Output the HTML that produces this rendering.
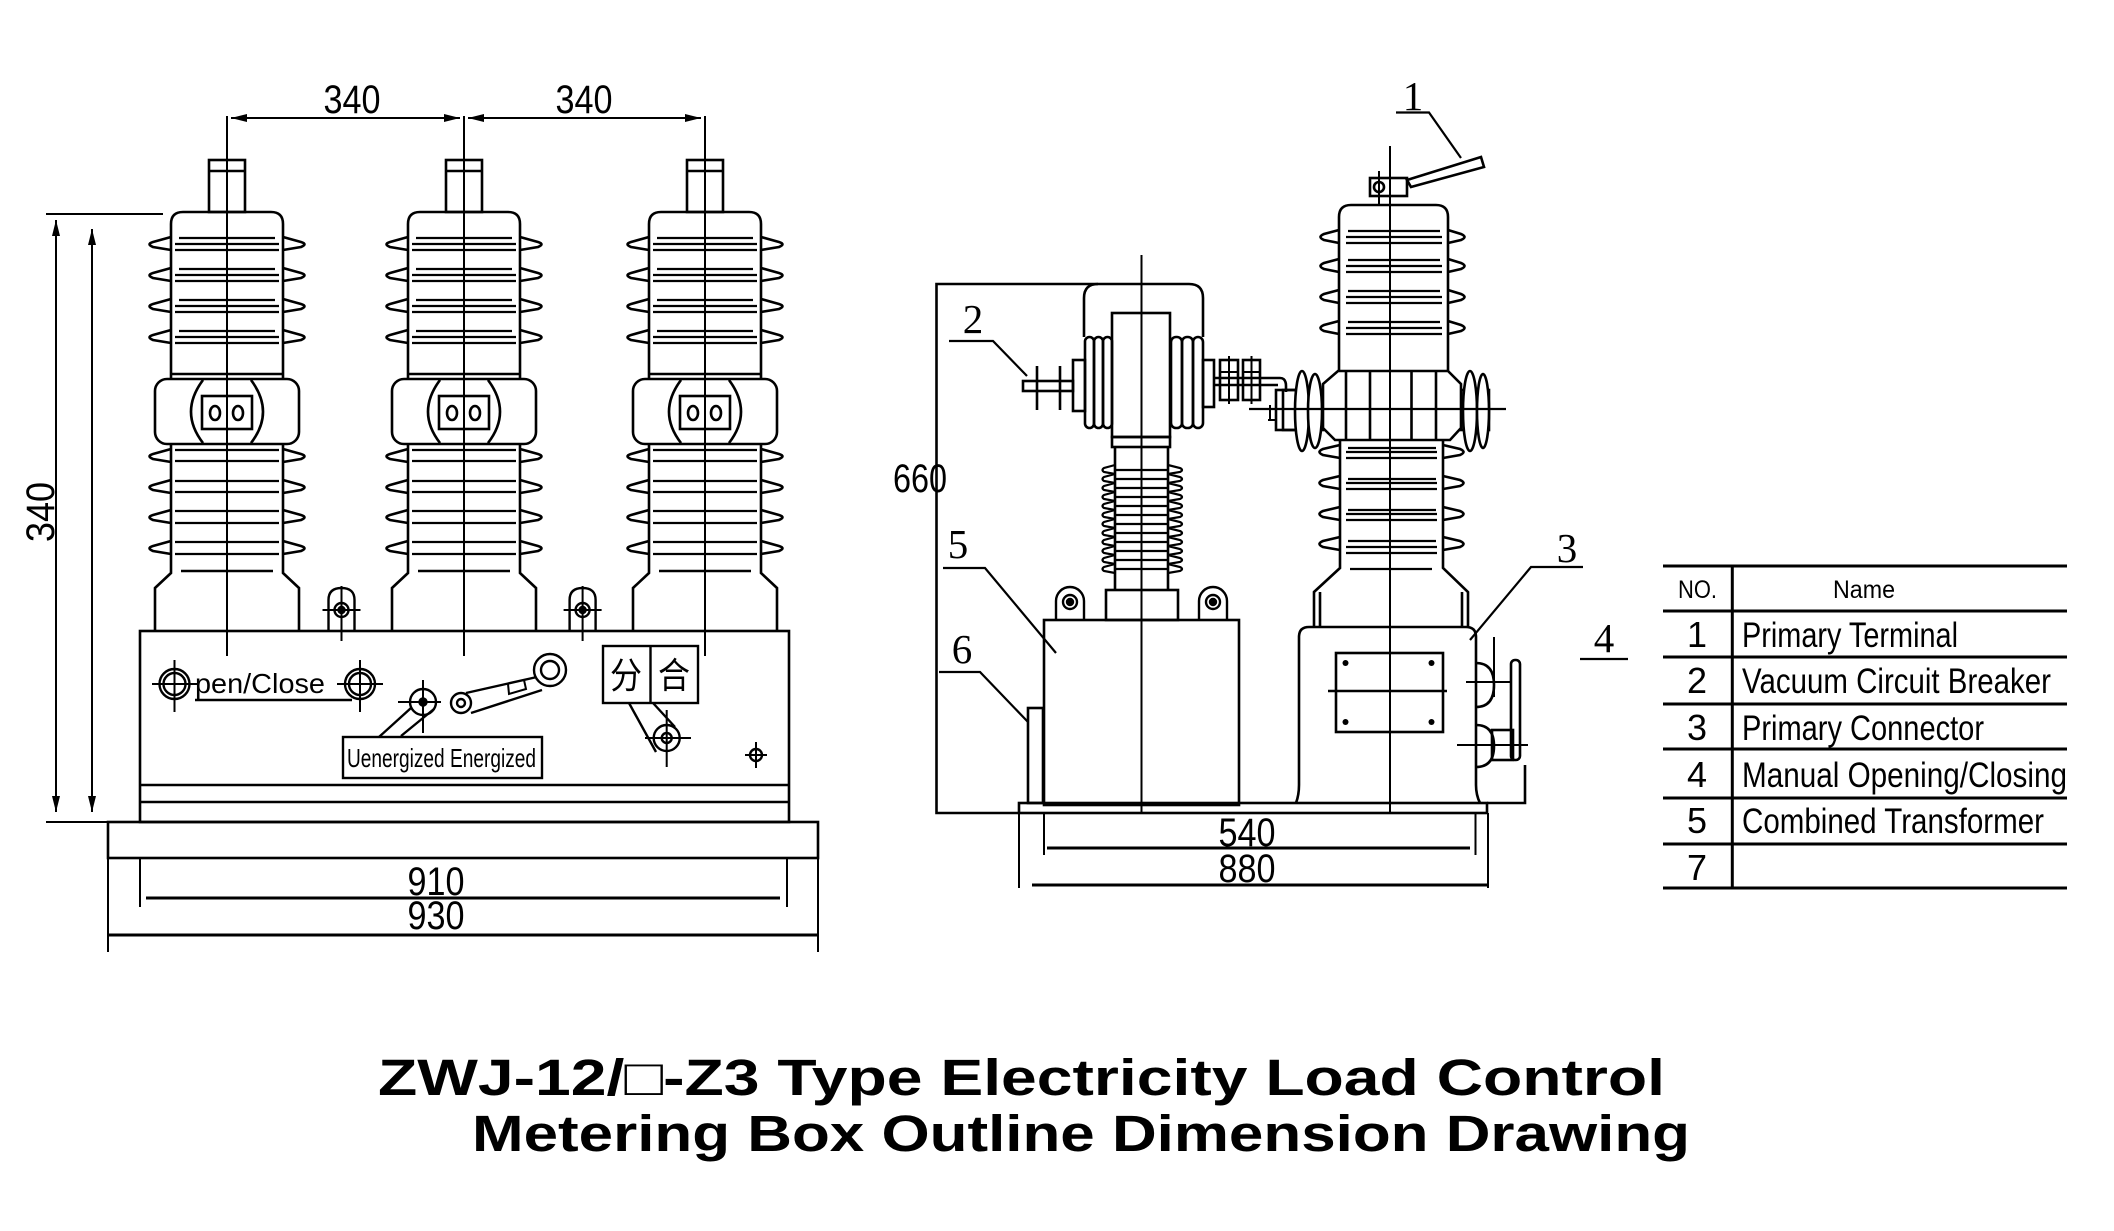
<!DOCTYPE html>
<html><head><meta charset="utf-8"><style>
html,body{margin:0;padding:0;background:#fff;overflow:hidden}
svg{display:block}
.s{font-family:"Liberation Sans",sans-serif}
.r{font-family:"Liberation Serif",serif}
</style></head><body>
<svg width="2114" height="1231" viewBox="0 0 2114 1231" xmlns="http://www.w3.org/2000/svg">
<defs>
<marker id="ar" viewBox="0 0 16 8" refX="16" refY="4" markerWidth="16" markerHeight="8" markerUnits="userSpaceOnUse" orient="auto-start-reverse"><path d="M0,0 L16,4 L0,8 Z" fill="#000"/></marker>
<g id="pole" fill="none" stroke="#000" stroke-width="2.6">
 <rect x="-18" y="160" width="36" height="52"/>
 <line x1="-18" y1="171" x2="18" y2="171"/>
 <path d="M-56,378 V224 Q-56,212 -44,212 H44 Q56,212 56,224 V378"/>
 <line x1="-56" y1="374" x2="56" y2="374"/>
 <path d="M-56,237 L-74,242 Q-81,244 -74,247 L-56,250 M56,237 L74,242 Q81,244 74,247 L56,250
 M-56,268 L-74,273 Q-81,275 -74,278 L-56,281 M56,268 L74,273 Q81,275 74,278 L56,281
 M-56,299 L-74,304 Q-81,306 -74,309 L-56,312 M56,299 L74,304 Q81,306 74,309 L56,312
 M-56,330 L-74,335 Q-81,337 -74,340 L-56,343 M56,330 L74,335 Q81,337 74,340 L56,343"/>
 <path stroke-width="2.2" d="M-48,238 H48 M-52,244 H52 M-52,250 H52 M-48,269 H48 M-52,275 H52 M-52,281 H52 M-48,300 H48 M-52,306 H52 M-52,312 H52 M-48,331 H48 M-52,337 H52 M-52,343 H52"/>
 <rect x="-72" y="379" width="144" height="65" rx="12"/>
 <path d="M-24,380 Q-48,412 -24,443 M24,380 Q48,412 24,443"/>
 <rect x="-25" y="396" width="50" height="33"/>
 <ellipse cx="-12" cy="413" rx="5" ry="7"/><ellipse cx="11" cy="413" rx="5" ry="7"/>
 <path d="M-56,444 V573 L-72,588 V631 M56,444 V573 L72,588 V631"/>
 <line x1="-46" y1="571" x2="46" y2="571"/>
 <path d="M-56,449 L-74,454 Q-81,456 -74,459 L-56,462 M56,449 L74,454 Q81,456 74,459 L56,462
 M-56,480 L-74,485 Q-81,487 -74,490 L-56,493 M56,480 L74,485 Q81,487 74,490 L56,493
 M-56,510 L-74,515 Q-81,517 -74,520 L-56,523 M56,510 L74,515 Q81,517 74,520 L56,523
 M-56,541 L-74,546 Q-81,548 -74,551 L-56,554 M56,541 L74,546 Q81,548 74,551 L56,554"/>
 <path stroke-width="2.2" d="M-52,450 H52 M-52,461 H52 M-52,481 H52 M-52,492 H52 M-52,511 H52 M-52,523 H52 M-52,542 H52 M-52,554 H52"/>
 <line x1="0" y1="116" x2="0" y2="656" stroke-width="2"/>
</g>
<g id="xh" fill="none" stroke="#000" stroke-width="2.4">
 <path d="M-13,631 V600 Q-13,588 0,588 Q13,588 13,600 V631"/>
 <circle cx="0" cy="610" r="7"/><circle cx="0" cy="610" r="3" fill="#000"/>
 <path d="M-19,610 H19 M0,586 V641" stroke-width="2"/>
</g>
<g id="eye" fill="none" stroke="#000" stroke-width="2.4">
 <path d="M-14,620 V601 A14,14 0 0 1 14,601 V620"/>
 <circle cx="0" cy="602" r="7"/><circle cx="0" cy="602" r="3" fill="#000"/>
</g>
</defs>

<rect width="2114" height="1231" fill="#fff"/>

<!-- ============ LEFT FRONT VIEW ============ -->
<use href="#pole" x="227"/>
<use href="#pole" x="464"/>
<use href="#pole" x="705"/>

<g fill="none" stroke="#000" stroke-width="2.6">
 <!-- box -->
 <rect x="140" y="631" width="649" height="191"/>
 <path d="M140,785 H789 M140,802 H789"/>
 <!-- base plate -->
 <rect x="108" y="822" width="710" height="36"/>
</g>
<use href="#xh" x="341.5"/>
<use href="#xh" x="582.6"/>

<!-- top dims -->
<g stroke="#000" stroke-width="2" fill="none">
 <line x1="231" y1="118" x2="460" y2="118" marker-start="url(#ar)" marker-end="url(#ar)"/>
 <line x1="468" y1="118" x2="701" y2="118" marker-start="url(#ar)" marker-end="url(#ar)"/>
 <!-- left vertical dims -->
 <line x1="46" y1="214" x2="163" y2="214"/>
 <line x1="46" y1="822" x2="108" y2="822"/>
 <line x1="56" y1="220" x2="56" y2="812" marker-start="url(#ar)" marker-end="url(#ar)"/>
 <line x1="92" y1="229" x2="92" y2="812" marker-start="url(#ar)" marker-end="url(#ar)"/>
 <!-- 910 / 930 -->
 <path d="M140,858 V907 M787,858 V907 M108,858 V952 M818,858 V952"/>
 <line x1="146" y1="898" x2="780" y2="898" stroke-width="3"/>
 <line x1="108" y1="935" x2="818" y2="935" stroke-width="3"/>
</g>
<g class="s" font-size="40" fill="#000" text-anchor="middle">
 <text x="352" y="113" textLength="57" lengthAdjust="spacingAndGlyphs">340</text>
 <text x="584" y="113" textLength="57" lengthAdjust="spacingAndGlyphs">340</text>
 <text transform="translate(54,512) rotate(-90)" textLength="60" lengthAdjust="spacingAndGlyphs">340</text>
 <text x="436" y="895" textLength="57" lengthAdjust="spacingAndGlyphs">910</text>
 <text x="436" y="929" textLength="57" lengthAdjust="spacingAndGlyphs">930</text>
</g>

<!-- box contents -->
<g fill="none" stroke="#000" stroke-width="2.4">
 <circle cx="174.5" cy="684" r="15"/><circle cx="174.5" cy="684" r="11"/>
 <path d="M152,684 H198 M174.5,660 V712" stroke-width="2"/>
 <circle cx="360" cy="684" r="15"/><circle cx="360" cy="684" r="11"/>
 <path d="M337,684 H383 M360,660 V712" stroke-width="2"/>
 <line x1="195" y1="700" x2="352" y2="700"/>
 <!-- left lever -->
 <path d="M411,708 L379,737 M434,709 L401,736"/>
 <circle cx="423" cy="702" r="13"/>
 <circle cx="423" cy="702" r="3.5" fill="#000"/>
 <path d="M398,702 H441 M423,680 V733" stroke-width="2"/>
 <!-- handle link -->
 <path d="M466,693 L537,677 M471,713 L542,690"/>
 <circle cx="461" cy="703" r="10" fill="#fff"/><circle cx="461" cy="703" r="4"/>
 <circle cx="550" cy="670" r="16" fill="#fff"/><circle cx="550" cy="670" r="9"/>
 <path d="M508,684 L509,694 L526,689 L524,680" stroke-width="2"/>
 <!-- label box -->
 <rect x="343" y="737" width="199" height="41"/>
 <!-- 分合 box -->
 <rect x="603" y="646" width="95" height="57"/>
 <line x1="650.5" y1="646" x2="650.5" y2="703"/>
 <!-- lower lever -->
 <path d="M629,703 L656,752 M653,703 L675,727"/>
 <circle cx="666.7" cy="738" r="13"/>
 <circle cx="666.7" cy="738" r="5"/>
 <path d="M645,738 H691 M666.7,710 V767" stroke-width="2"/>
 <!-- small crosshair -->
 <circle cx="756" cy="755" r="6"/>
 <path d="M745,755 H767 M756,742 V768" stroke-width="2"/>
</g>
<g fill="#000">
 <text class="s" x="195" y="693" font-size="28" textLength="130" lengthAdjust="spacingAndGlyphs">pen/Close</text>
 <text class="s" x="347" y="767" font-size="26" textLength="189" lengthAdjust="spacingAndGlyphs">Uenergized Energized</text>
 <text x="610" y="688" font-size="36" font-family="'Liberation Sans','Noto Sans CJK SC',sans-serif" textLength="32" lengthAdjust="spacingAndGlyphs">分</text>
 <text x="658" y="688" font-size="36" font-family="'Liberation Sans','Noto Sans CJK SC',sans-serif" textLength="32" lengthAdjust="spacingAndGlyphs">合</text>
</g>

<!-- ============ RIGHT SIDE VIEW ============ -->
<g fill="none" stroke="#000" stroke-width="2.6">
 <!-- frame -->
 <path d="M1098,284 H936.5 V813 H1019"/>
 <!-- CT hood -->
 <path d="M1084,337 V298 Q1084,284 1098,284 H1189 Q1203,284 1203,298 V337"/>
 <!-- coils -->
 <rect x="1085" y="337" width="9" height="91" rx="4.5"/>
 <rect x="1094" y="337" width="9" height="91" rx="4.5"/>
 <rect x="1103" y="337" width="9" height="91" rx="4.5"/>
 <rect x="1171" y="337" width="11" height="91" rx="5"/>
 <rect x="1182" y="337" width="11" height="91" rx="5"/>
 <rect x="1193" y="337" width="10" height="91" rx="5"/>
 <!-- inner column -->
 <rect x="1112" y="313" width="58" height="124"/>
 <rect x="1112" y="437" width="58" height="10"/>
 <!-- side boxes -->
 <rect x="1073" y="360" width="12" height="51"/>
 <rect x="1203" y="360" width="11" height="47"/>
 <!-- bolt -->
 <rect x="1023" y="381" width="50" height="10"/>
 <path d="M1037,366 V410 M1060,366 V410"/>
 <!-- CT insulator column -->
 <path d="M1115,447 V590 M1168,447 V590"/>
 <path stroke-width="2.2" d="
 M1115,465 L1104,468 Q1101,470 1104,472 L1115,474 M1168,465 L1180,468 Q1184,470 1180,472 L1168,474
 M1115,474 L1104,477 Q1101,479 1104,481 L1115,483 M1168,474 L1180,477 Q1184,479 1180,481 L1168,483
 M1115,483 L1104,486 Q1101,488 1104,490 L1115,492 M1168,483 L1180,486 Q1184,488 1180,490 L1168,492
 M1115,492 L1104,495 Q1101,497 1104,499 L1115,501 M1168,492 L1180,495 Q1184,497 1180,499 L1168,501
 M1115,501 L1104,504 Q1101,506 1104,508 L1115,510 M1168,501 L1180,504 Q1184,506 1180,508 L1168,510
 M1115,510 L1104,513 Q1101,515 1104,517 L1115,519 M1168,510 L1180,513 Q1184,515 1180,517 L1168,519
 M1115,519 L1104,522 Q1101,524 1104,526 L1115,528 M1168,519 L1180,522 Q1184,524 1180,526 L1168,528
 M1115,528 L1104,531 Q1101,533 1104,535 L1115,537 M1168,528 L1180,531 Q1184,533 1180,535 L1168,537
 M1115,537 L1104,540 Q1101,542 1104,544 L1115,546 M1168,537 L1180,540 Q1184,542 1180,544 L1168,546
 M1115,546 L1104,549 Q1101,551 1104,553 L1115,555 M1168,546 L1180,549 Q1184,551 1180,553 L1168,555
 M1115,555 L1104,558 Q1101,560 1104,562 L1115,564 M1168,555 L1180,558 Q1184,560 1180,562 L1168,564
 M1115,564 L1104,567 Q1101,569 1104,571 L1115,573 M1168,564 L1180,567 Q1184,569 1180,571 L1168,573
 M1115,470 H1168 M1115,479 H1168 M1115,488 H1168 M1115,497 H1168 M1115,506 H1168 M1115,515 H1168 M1115,524 H1168 M1115,533 H1168 M1115,542 H1168 M1115,551 H1168 M1115,560 H1168 M1115,569 H1168"/>
 <rect x="1106" y="590" width="72" height="30"/>
 <!-- CT box -->
 <rect x="1044" y="620" width="195" height="185"/>
 <!-- part 6 small rect -->
 <rect x="1028" y="708" width="15" height="95"/>
 <!-- base plate -->
 <rect x="1019" y="803" width="468" height="10"/>
 <!-- connector CT-pole -->
 <path d="M1214,378 H1280 Q1286,378 1286,386 V392 M1214,385 H1278"/>
 <rect x="1220" y="360" width="18" height="40"/>
 <rect x="1243" y="360" width="17" height="40"/>
 <path d="M1229,356 V404 M1251.5,356 V404 M1220,372 H1238 M1243,372 H1260" stroke-width="2"/>
 <rect x="1276" y="390" width="20" height="40"/>
 <path d="M1268,420 H1276 M1270,405 V420" stroke-width="2"/>
 <!-- left bushing -->
 <rect x="1283" y="390" width="40" height="40"/>
 <ellipse cx="1302" cy="411" rx="7" ry="40" fill="#fff"/>
 <ellipse cx="1315" cy="411" rx="7" ry="37" fill="#fff"/>
 <!-- right bushing -->
 <rect x="1461" y="390" width="28" height="40"/>
 <ellipse cx="1470" cy="411" rx="7" ry="40" fill="#fff"/>
 <ellipse cx="1483" cy="411" rx="6" ry="37" fill="#fff"/>
 <!-- pole upper body -->
 <path d="M1339,371 V217 Q1339,205 1351,205 H1436 Q1448,205 1448,217 V371"/>
 <path d="M1339,230 L1324,234 Q1317,237 1324,240 L1339,243 M1448,230 L1461,234 Q1468,237 1461,240 L1448,243
 M1339,259 L1324,263 Q1317,266 1324,269 L1339,272 M1448,259 L1461,263 Q1468,266 1461,269 L1448,272
 M1339,290 L1324,294 Q1317,297 1324,300 L1339,303 M1448,290 L1461,294 Q1468,297 1461,300 L1448,303
 M1339,321 L1324,325 Q1317,328 1324,331 L1339,334 M1448,321 L1461,325 Q1468,328 1461,331 L1448,334"/>
 <path stroke-width="2.2" d="M1348,231 H1440 M1346,237 H1442 M1346,243 H1442 M1348,260 H1440 M1346,266 H1442 M1346,272 H1442 M1348,291 H1440 M1346,297 H1442 M1346,303 H1442 M1348,322 H1440 M1346,328 H1442 M1346,334 H1442"/>
 <!-- connector housing -->
 <path d="M1338,371 H1448 L1461,384 V428 L1450,440 H1335 L1323,428 V384 Z" fill="#fff"/>
 <path d="M1346,372 V440 M1370,372 V440 M1411.5,372 V440 M1436,372 V440"/>
 <line x1="1249" y1="409" x2="1506" y2="409" stroke-width="2.2"/>
 <!-- pole lower body -->
 <path d="M1340,440 V568 L1314,592 V627 M1443,440 V568 L1468,592 V627 M1320,592 V627 M1462,592 V627"/>
 <path d="M1340,445 L1323,449 Q1316,452 1323,455 L1340,458 M1443,445 L1460,449 Q1467,452 1460,455 L1443,458
 M1340,476 L1323,480 Q1316,483 1323,486 L1340,489 M1443,476 L1460,480 Q1467,483 1460,486 L1443,489
 M1340,507 L1323,511 Q1316,514 1323,517 L1340,520 M1443,507 L1460,511 Q1467,514 1460,517 L1443,520
 M1340,537 L1323,541 Q1316,544 1323,547 L1340,550 M1443,537 L1460,541 Q1467,544 1460,547 L1443,550"/>
 <path stroke-width="2.2" d="M1348,448 H1436 M1346,452 H1437 M1346,458 H1437 M1348,479 H1436 M1346,483 H1437 M1346,489 H1437 M1348,510 H1436 M1346,514 H1437 M1346,520 H1437 M1348,541 H1436 M1346,547 H1437 M1346,553 H1437 M1350,569 H1432"/>
 <!-- cabinet -->
 <path d="M1296,803 Q1299,795 1299,785 V637 Q1299,627 1309,627 H1466 Q1476,627 1476,637 V785 Q1476,795 1480,803"/>
 <rect x="1336" y="653" width="107" height="79"/>
 <line x1="1328" y1="691" x2="1447" y2="691"/>
 <!-- clamp & handle (1) -->
 <rect x="1370" y="178" width="37" height="18"/>
 <circle cx="1379" cy="187" r="5"/>
 <line x1="1379" y1="171" x2="1379" y2="206" stroke-width="2"/>
 <path d="M1407,180 L1481,157 L1484,167 L1411,187 Z"/>
 <!-- centerlines -->
 <line x1="1141.5" y1="255" x2="1141.5" y2="812" stroke-width="2"/>
 <line x1="1390" y1="146" x2="1390" y2="812" stroke-width="2"/>
 <!-- manual mechanism -->
 <path d="M1476,663 Q1494,663 1494,685 Q1494,707 1476,707 M1476,725 Q1494,725 1494,746 Q1494,767 1476,767"/>
 <rect x="1511" y="660" width="9" height="100" rx="4"/>
 <rect x="1492" y="730" width="21" height="30"/>
 <path d="M1466,682 H1511 M1494,637 V697 M1457,745 H1528" stroke-width="2"/>
 <path d="M1525,765 V803 H1487"/>
 <!-- dims 540/880 -->
 <path stroke-width="2" d="M1044,813 V855 M1475.5,813 V855 M1019,813 V888 M1488,813 V888"/>
 <line x1="1047" y1="848" x2="1470" y2="848" stroke-width="3"/>
 <line x1="1032" y1="885" x2="1488" y2="885" stroke-width="3"/>
 <!-- leaders -->
 <path stroke-width="2.2" d="M1396,112.5 H1429 L1461,158 M949,341 H993 L1027,376 M943,568 H985 L1056,653 M939,672 H980 L1028,722 M1583,567 H1531 L1470,640 M1580,659 H1628"/>
</g>
<circle cx="1345.5" cy="663" r="3" fill="#000"/>
<circle cx="1431.5" cy="663" r="3" fill="#000"/>
<circle cx="1345.5" cy="722" r="3" fill="#000"/>
<circle cx="1431.5" cy="722" r="3" fill="#000"/>
<use href="#eye" x="1070"/>
<use href="#eye" x="1213"/>

<g class="s" font-size="40" fill="#000" text-anchor="middle">
 <text x="920" y="492" textLength="54" lengthAdjust="spacingAndGlyphs">660</text>
 <text x="1247" y="846" textLength="57" lengthAdjust="spacingAndGlyphs">540</text>
 <text x="1247" y="882" textLength="57" lengthAdjust="spacingAndGlyphs">880</text>
</g>
<g class="r" font-size="41" fill="#000" text-anchor="middle">
 <text x="1413" y="110">1</text>
 <text x="973" y="333">2</text>
 <text x="958" y="558">5</text>
 <text x="962" y="663">6</text>
 <text x="1567" y="562">3</text>
 <text x="1604" y="652">4</text>
</g>

<!-- ============ TABLE ============ -->
<g stroke="#000" stroke-width="3" fill="none">
 <path d="M1663,566 H2067 M1663,611 H2067 M1663,657 H2067 M1663,704 H2067 M1663,749 H2067 M1663,798 H2067 M1663,844 H2067 M1663,888 H2067"/>
 <line x1="1732.3" y1="566" x2="1732.3" y2="888"/>
</g>
<g class="s" fill="#000">
 <text x="1678" y="598" font-size="25" textLength="39" lengthAdjust="spacingAndGlyphs">NO.</text>
 <text x="1833" y="598" font-size="25" textLength="62" lengthAdjust="spacingAndGlyphs">Name</text>
 <g font-size="36" text-anchor="middle">
  <text x="1697" y="647">1</text>
  <text x="1697" y="693">2</text>
  <text x="1697" y="740">3</text>
  <text x="1697" y="787">4</text>
  <text x="1697" y="833">5</text>
  <text x="1697" y="880">7</text>
 </g>
 <g font-size="35">
  <text x="1742" y="647" textLength="216" lengthAdjust="spacingAndGlyphs">Primary Terminal</text>
  <text x="1742" y="693" textLength="309" lengthAdjust="spacingAndGlyphs">Vacuum Circuit Breaker</text>
  <text x="1742" y="740" textLength="242" lengthAdjust="spacingAndGlyphs">Primary Connector</text>
  <text x="1742" y="787" textLength="325" lengthAdjust="spacingAndGlyphs">Manual Opening/Closing</text>
  <text x="1742" y="833" textLength="302" lengthAdjust="spacingAndGlyphs">Combined Transformer</text>
 </g>
</g>

<!-- ============ TITLE ============ -->
<g font-family="'Liberation Sans','DejaVu Sans',sans-serif" font-weight="bold" font-size="51" fill="#000">
 <text x="378" y="1095" textLength="1287" lengthAdjust="spacingAndGlyphs">ZWJ-12/□-Z3 Type Electricity Load Control</text>
 <text x="472" y="1151" textLength="1218" lengthAdjust="spacingAndGlyphs">Metering Box Outline Dimension Drawing</text>
</g>
</svg>
</body></html>
